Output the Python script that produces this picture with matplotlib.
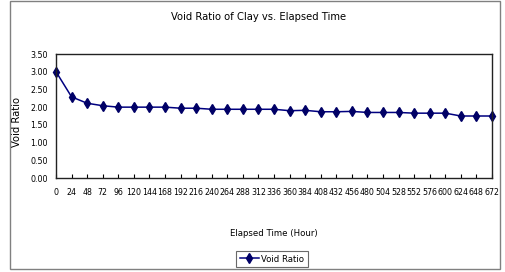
import matplotlib
matplotlib.use("Agg")
import matplotlib.pyplot as plt
from matplotlib.patches import Rectangle

hours = list(range(0, 673, 24))
void_ratio = [3.00, 2.29, 2.11, 2.04, 2.00, 2.00, 2.00, 2.00, 1.97, 1.97,
              1.94, 1.94, 1.94, 1.94, 1.94, 1.90, 1.91, 1.87, 1.87, 1.88,
              1.85, 1.85, 1.85, 1.83, 1.83, 1.83, 1.75, 1.75, 1.75]
y_ticks = [0.0, 0.5, 1.0, 1.5, 2.0, 2.5, 3.0, 3.5]

plt.rcParams['font.family'] = ['DejaVu Sans']
plt.rcParams['font.stretch'] = 'condensed'

W, H = 505, 272
fig = plt.figure(figsize=(W / 100, H / 100), dpi=100)
ax = fig.add_axes([56 / W, 1 - 178 / H, (492 - 56) / W, (178 - 54) / H])

idx = list(range(len(hours)))
ax.plot(idx, void_ratio, color="#000080", lw=1.1, marker="d", ms=5,
        mfc="#000066", mec="#000066", label="Void Ratio", clip_on=False)

ax.set_xlim(0, len(hours) - 1)
ax.set_ylim(0, 3.5)
ax.set_xticks(idx)
ax.set_xticklabels([str(h) for h in hours], fontsize=6.3)
ax.set_yticks(y_ticks)
ax.set_yticklabels([f"{v:.2f}" for v in y_ticks], fontsize=6.3)
ax.tick_params(axis="x", direction="in", length=3, width=0.8, pad=7)
ax.tick_params(axis="y", length=0, pad=6)
for s in ax.spines.values():
    s.set_color("#222222")
    s.set_linewidth(1.0)

fig.text(259 / W, 1 - 17 / H, "Void Ratio of Clay vs. Elapsed Time",
         ha="center", va="center", fontsize=8)
fig.text(274 / W, 1 - 234 / H, "Elapsed Time (Hour)",
         ha="center", va="center", fontsize=6.8)
fig.text(17 / W, 1 - 122 / H, "Void Ratio", rotation=90,
         ha="center", va="center", fontsize=8)

leg = ax.legend(loc="center", bbox_to_anchor=(272 / W, 1 - 259 / H),
                bbox_transform=fig.transFigure, fontsize=6.8, frameon=True,
                fancybox=False, handlelength=2.0, handletextpad=0.3,
                borderpad=0.4, borderaxespad=0)
leg.get_frame().set_edgecolor("#444444")
leg.get_frame().set_linewidth(0.8)

fig.patches.append(Rectangle((10 / W, 1 - 269 / H), 490 / W, 268 / H,
                             transform=fig.transFigure, fill=False,
                             edgecolor="#808080", lw=1.0))

fig.savefig("out.png", dpi=100)
